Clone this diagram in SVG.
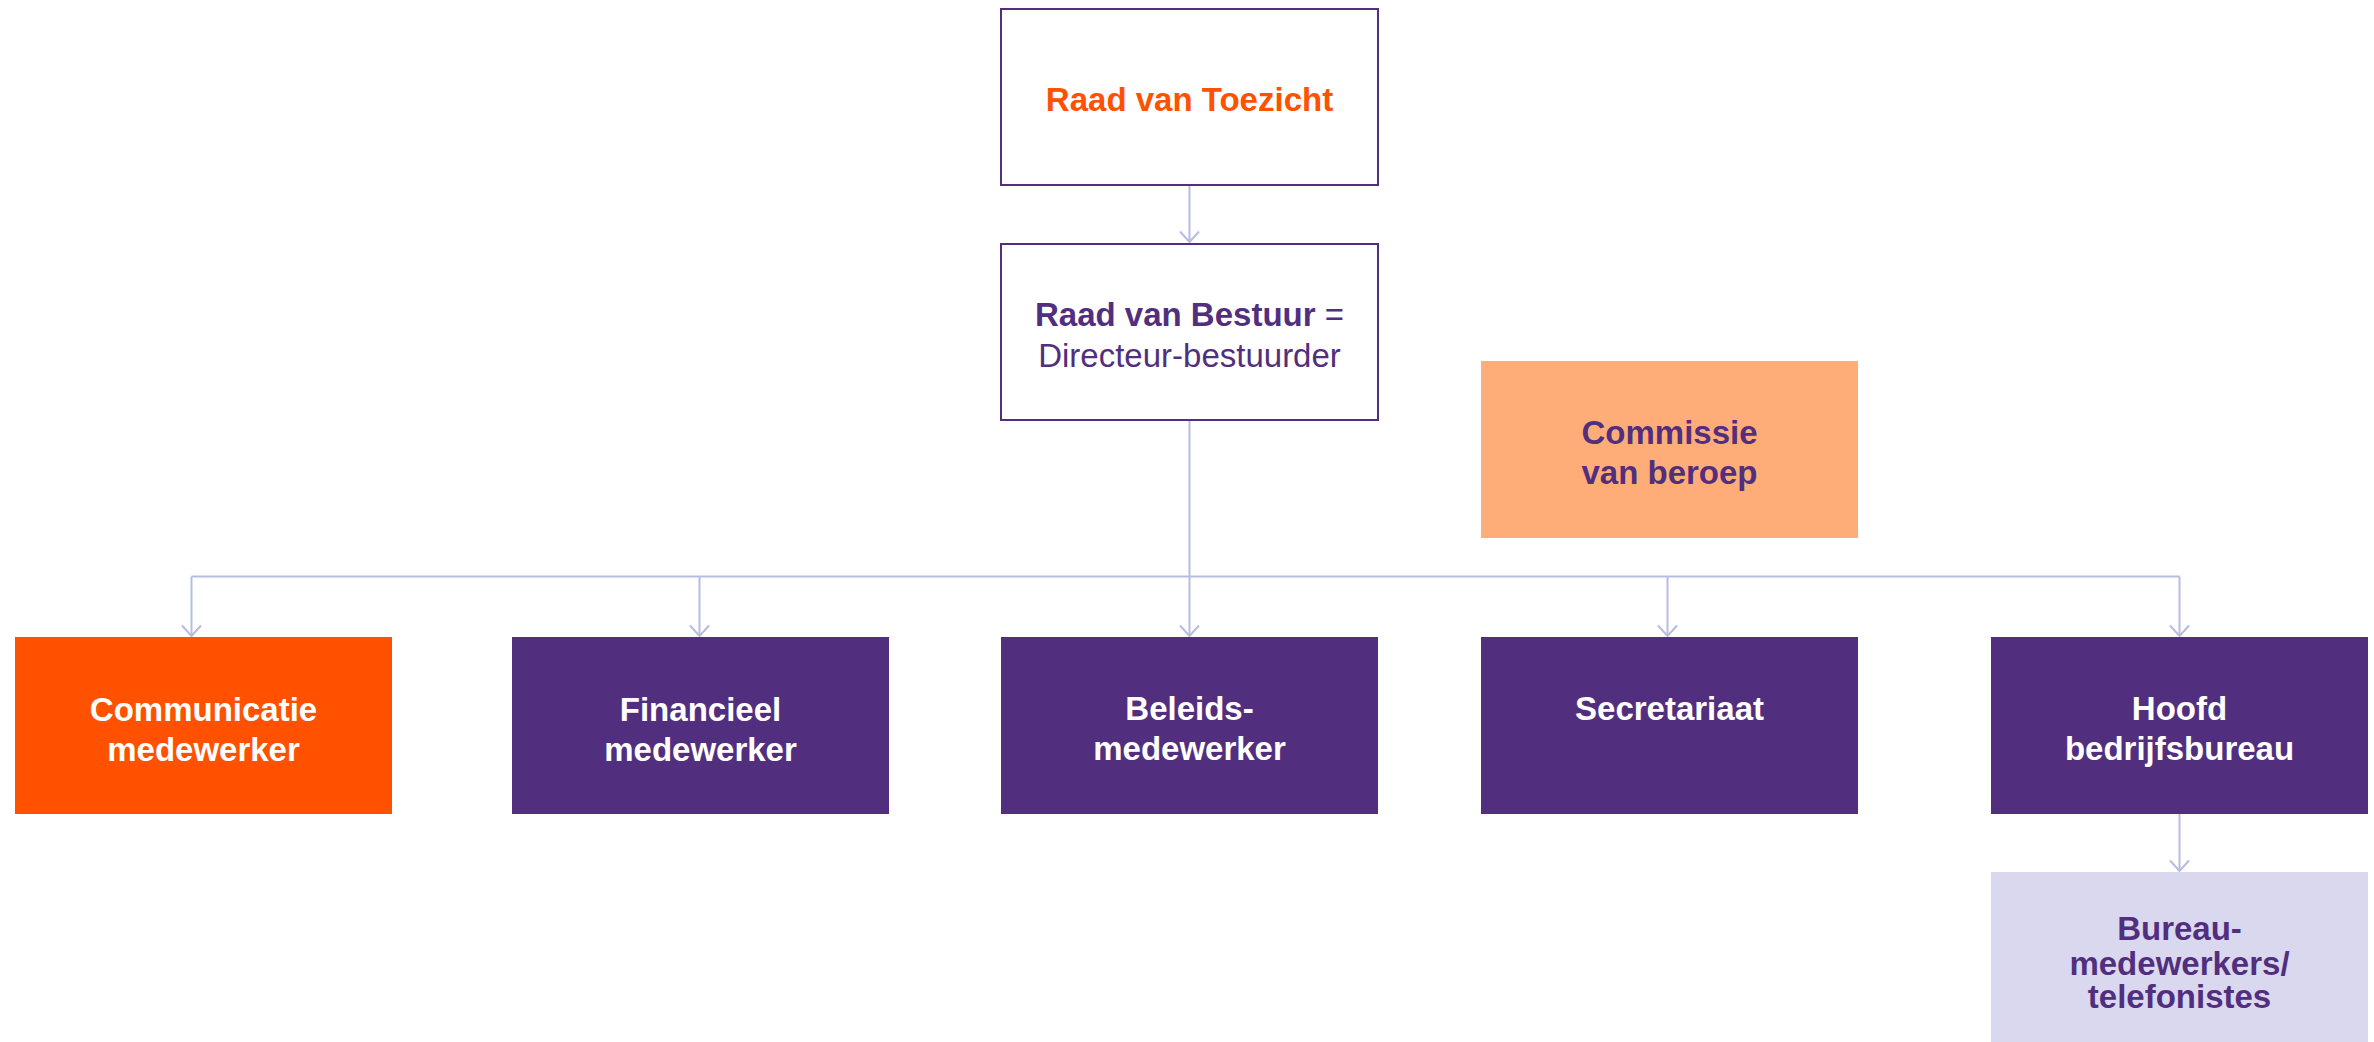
<svg xmlns="http://www.w3.org/2000/svg" width="2374" height="1042" viewBox="0 0 2374 1042">
<style>
  text { font-family: "Liberation Sans", Arial, sans-serif; font-size: 33px; text-anchor: middle; }
  .b { font-weight: bold; }
  .l { font-weight: normal; }
  .white { fill: #ffffff; }
  .purple { fill: #522f7e; }
  .orange { fill: #ff5100; }
  .outline { fill: #ffffff; stroke: #522f7e; stroke-width: 2; }
  .conn { fill: none; stroke: #b7bce3; stroke-width: 2; }
</style>
<defs>
  <marker id="arr" markerUnits="userSpaceOnUse" markerWidth="30" markerHeight="30" refX="0" refY="0" orient="auto" overflow="visible">
    <path d="M-10.5,-9.5 L0,0 L-10.5,9.5" fill="none" stroke="#b7bce3" stroke-width="2"/>
  </marker>
</defs>
<rect width="2374" height="1042" fill="#ffffff"/>

<g id="connectors">
  <path class="conn" d="M1189.5,186 V242" marker-end="url(#arr)"/>
  <path class="conn" d="M1189.5,421 V636" marker-end="url(#arr)"/>
  <path class="conn" d="M191.5,576.5 H2179.5"/>
  <path class="conn" d="M191.5,576.5 V636" marker-end="url(#arr)"/>
  <path class="conn" d="M699.5,576.5 V636" marker-end="url(#arr)"/>
  <path class="conn" d="M1667.5,576.5 V636" marker-end="url(#arr)"/>
  <path class="conn" d="M2179.5,576.5 V636" marker-end="url(#arr)"/>
  <path class="conn" d="M2179.5,814 V871" marker-end="url(#arr)"/>
</g>

<g id="raad-van-toezicht">
  <rect class="outline" x="1001" y="9" width="377" height="176"/>
  <text class="b orange" x="1189.5" y="111">Raad van Toezicht</text>
</g>

<g id="raad-van-bestuur">
  <rect class="outline" x="1001" y="244" width="377" height="176"/>
  <text class="purple" x="1189.5" y="326"><tspan class="b">Raad van Bestuur</tspan><tspan class="l"> =</tspan></text>
  <text class="l purple" x="1189.5" y="367">Directeur-bestuurder</text>
</g>

<g id="commissie-van-beroep">
  <rect x="1481" y="361" width="377" height="177" fill="#ffad78"/>
  <text class="b purple" x="1669.5" y="444">Commissie</text>
  <text class="b purple" x="1669.5" y="484">van beroep</text>
</g>

<g id="communicatie-medewerker">
  <rect x="15" y="637" width="377" height="177" fill="#ff5100"/>
  <text class="b white" x="203.5" y="720.5">Communicatie</text>
  <text class="b white" x="203.5" y="760.5">medewerker</text>
</g>

<g id="financieel-medewerker">
  <rect x="512" y="637" width="377" height="177" fill="#522f7e"/>
  <text class="b white" x="700.5" y="720.5">Financieel</text>
  <text class="b white" x="700.5" y="760.5">medewerker</text>
</g>

<g id="beleidsmedewerker">
  <rect x="1001" y="637" width="377" height="177" fill="#522f7e"/>
  <text class="b white" x="1189.5" y="720">Beleids-</text>
  <text class="b white" x="1189.5" y="760">medewerker</text>
</g>

<g id="secretariaat">
  <rect x="1481" y="637" width="377" height="177" fill="#522f7e"/>
  <text class="b white" x="1669.5" y="720">Secretariaat</text>
</g>

<g id="hoofd-bedrijfsbureau">
  <rect x="1991" y="637" width="377" height="177" fill="#522f7e"/>
  <text class="b white" x="2179.5" y="720">Hoofd</text>
  <text class="b white" x="2179.5" y="760">bedrijfsbureau</text>
</g>

<g id="bureau-medewerkers">
  <rect x="1991" y="872" width="377" height="177" fill="#dad8ee"/>
  <text class="b purple" x="2179.5" y="940">Bureau-</text>
  <text class="b purple" x="2179.5" y="975">medewerkers/</text>
  <text class="b purple" x="2179.5" y="1008">telefonistes</text>
</g>
</svg>
